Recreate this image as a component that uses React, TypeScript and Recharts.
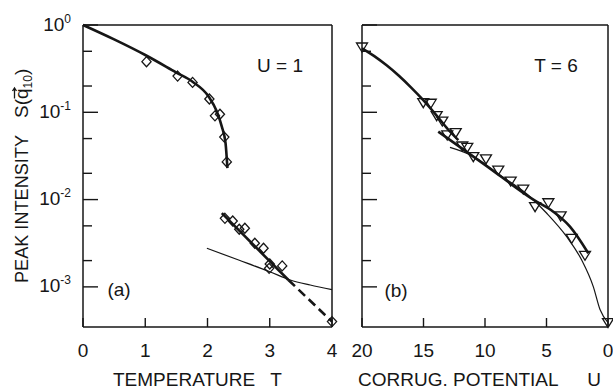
import React from "react";
import { ComposedChart, Line, XAxis, YAxis } from "recharts";

// panel (a): peak intensity vs temperature at U = 1
const aUpperCurveT = [0, 0.5, 1.0, 1.5, 1.76, 2.02, 2.15, 2.23, 2.29, 2.32];
const aUpperCurveS = [1, 0.684, 0.453, 0.285, 0.224, 0.151, 0.102, 0.0684, 0.0442, 0.0229];
const aUpperPointsT = [1.02, 1.52, 1.76, 2.03, 2.12, 2.2, 2.27, 2.31];
const aUpperPointsS = [0.38, 0.26, 0.22, 0.142, 0.091, 0.095, 0.052, 0.027];
const aLowerPointsT = [2.28, 2.405, 2.51, 2.6, 2.76, 2.9, 3.0, 2.99, 3.2, 4.0];
const aLowerPointsS = [0.0061, 0.00569, 0.00457, 0.00469, 0.00316, 0.00277, 0.00183, 0.00163, 0.00174, 0.0004];
const aFitT = [2.23, 3.3];
const aFitS = [0.007, 0.0012];
const aFitExtT = [3.3, 4.0];
const aFitExtS = [0.0012, 0.0004];
const aThinT = [1.99, 2.5, 3.0, 3.33, 3.65, 4.0];
const aThinS = [0.00277, 0.00203, 0.00149, 0.0012, 0.00105, 0.00093];

// panel (b): peak intensity vs corrugation potential at T = 6
const bPointsU = [20, 15.02, 14.41, 13.93, 13.47, 13.07, 12.38, 11.85, 11.44, 10.95, 9.92, 8.92, 7.91, 6.89, 5.93, 4.85, 3.85, 2.95, 1.87, 0];
const bPointsS = [0.56, 0.129, 0.127, 0.0914, 0.0794, 0.055, 0.0584, 0.0411, 0.0397, 0.031, 0.0292, 0.0218, 0.0163, 0.0132, 0.0083, 0.0092, 0.0065, 0.0036, 0.0023, 0.00039];
const bCurve1U = [20, 19, 18, 17, 16, 15, 14, 13, 12.17];
const bCurve1S = [0.541, 0.44, 0.345, 0.262, 0.192, 0.137, 0.0942, 0.0635, 0.048];
const bCurve2U = [13.8, 10, 6.07, 4.45, 3.09, 1.6];
const bCurve2S = [0.06, 0.025, 0.01, 0.00727, 0.0049, 0.00243];
const bThinU = [12.85, 11, 9, 6.5, 4.98, 3.36, 2.14, 1.19, 0.65, 0];
const bThinS = [0.0397, 0.0316, 0.02, 0.0113, 0.00697, 0.00376, 0.00203, 0.001, 0.00055, 0.00039];

const tTicks = [0, 1, 2, 3, 4];
const uTicks = [0, 5, 10, 15, 20];
const sTicks = [1, 0.5, 0.2, 0.1, 0.05, 0.02, 0.01, 0.005, 0.002, 0.001];
const sDomain = [3.47e-4, 1];

const W = 613;
const H = 391;
const TOP = 25;
const BOTTOM = 327;
const A_LEFT = 83;
const A_RIGHT = 332;
const B_LEFT = 362;
const B_RIGHT = 608;
const INK = "#161616";
const FONT = "'Liberation Sans', Arial, sans-serif";
const frame = { stroke: INK, strokeWidth: 1.5 };

const pts = (xs: number[], ys: number[]) => xs.map((x, i) => ({ x, y: ys[i] }));
const isDecade = (v: number) => Math.abs(Math.log10(v) - Math.round(Math.log10(v))) < 1e-6;

const yTick = (edge: number, dir: number, labelled: boolean) => (props: any) => {
  const { y, payload } = props;
  const v = payload.value;
  const major = isDecade(v);
  const exp = Math.round(Math.log10(v));
  return (
    <g>
      <line x1={edge} x2={edge + dir * (major ? 15 : 9)} y1={y} y2={y} stroke={INK} strokeWidth={1.4} />
      {labelled && major && (
        <text x={edge - 12} y={y + 5.5} textAnchor="end" fontSize={19} fill={INK} fontFamily={FONT}>
          10
          <tspan fontSize={12} dy={-8}>{exp === 0 ? "0" : `-${-exp}`}</tspan>
        </text>
      )}
    </g>
  );
};

const xTick = (edge: number, dir: number, labelled: boolean) => (props: any) => {
  const { x, payload } = props;
  return (
    <g>
      <line x1={x} x2={x} y1={edge} y2={edge + dir * 9} stroke={INK} strokeWidth={1.4} />
      {labelled && (
        <text x={x} y={357} textAnchor="middle" fontSize={19} fill={INK} fontFamily={FONT}>
          {payload.value}
        </text>
      )}
    </g>
  );
};

const diamond = (p: any) => (
  <path
    key={`d${p.index}`}
    d={`M${p.cx},${p.cy - 5} L${p.cx + 4.6},${p.cy} L${p.cx},${p.cy + 5} L${p.cx - 4.6},${p.cy} Z`}
    fill="none"
    stroke={INK}
    strokeWidth={1.3}
  />
);

const triangle = (p: any) => (
  <path
    key={`t${p.index}`}
    d={`M${p.cx - 5.5},${p.cy - 4} L${p.cx + 5.5},${p.cy - 4} L${p.cx},${p.cy + 5} Z`}
    fill="none"
    stroke={INK}
    strokeWidth={1.3}
  />
);

const abs = (left: number): React.CSSProperties => ({ position: "absolute", left, top: 0 });

export default function App() {
  return (
    <div style={{ position: "absolute", left: 0, top: 0, width: W, height: H, background: "#fff" }}>
      <div style={abs(0)}>
        <ComposedChart
          width={W}
          height={H}
          margin={{ top: TOP - 10, bottom: H - BOTTOM - 30, left: A_LEFT - 40, right: W - A_RIGHT - 10 }}
        >
          <XAxis dataKey="x" type="number" domain={[0, 4]} ticks={tTicks} interval={0} height={30}
            tickLine={false} axisLine={frame} tick={xTick(BOTTOM, -1, true)} />
          <XAxis xAxisId="top" orientation="top" dataKey="x" type="number" domain={[0, 4]} ticks={tTicks}
            interval={0} height={10} tickLine={false} axisLine={frame} tick={xTick(TOP, 1, false)} />
          <YAxis type="number" scale="log" domain={sDomain} ticks={sTicks} interval={0} width={40}
            tickLine={false} axisLine={frame} tick={yTick(A_LEFT, 1, true)} />
          <YAxis yAxisId="r" orientation="right" type="number" scale="log" domain={sDomain} ticks={sTicks}
            interval={0} width={10} tickLine={false} axisLine={frame} tick={yTick(A_RIGHT, -1, false)} />
          <Line data={pts(aUpperCurveT, aUpperCurveS)} dataKey="y" type="monotone" stroke={INK} strokeWidth={2.6}
            dot={false} activeDot={false} isAnimationActive={false} />
          <Line data={pts(aFitT, aFitS)} dataKey="y" type="linear" stroke={INK} strokeWidth={2.6}
            dot={false} activeDot={false} isAnimationActive={false} />
          <Line data={pts(aFitExtT, aFitExtS)} dataKey="y" type="linear" stroke={INK} strokeWidth={2.6}
            strokeDasharray="9 5" dot={false} activeDot={false} isAnimationActive={false} />
          <Line data={pts(aThinT, aThinS)} dataKey="y" type="monotone" stroke={INK} strokeWidth={1.2}
            dot={false} activeDot={false} isAnimationActive={false} />
          <Line data={pts(aUpperPointsT, aUpperPointsS)} dataKey="y" stroke="none" dot={diamond}
            activeDot={false} isAnimationActive={false} />
          <Line data={pts(aLowerPointsT, aLowerPointsS)} dataKey="y" stroke="none" dot={diamond}
            activeDot={false} isAnimationActive={false} />
        </ComposedChart>
      </div>
      <div style={abs(0)}>
        <ComposedChart
          width={W}
          height={H}
          margin={{ top: TOP - 10, bottom: H - BOTTOM - 30, left: B_LEFT - 10, right: W - B_RIGHT - 5 }}
        >
          <XAxis dataKey="x" type="number" domain={[0, 20]} reversed ticks={uTicks} interval={0} height={30}
            tickLine={false} axisLine={frame} tick={xTick(BOTTOM, -1, true)} />
          <XAxis xAxisId="top" orientation="top" dataKey="x" type="number" domain={[0, 20]} reversed ticks={uTicks}
            interval={0} height={10} tickLine={false} axisLine={frame} tick={xTick(TOP, 1, false)} />
          <YAxis type="number" scale="log" domain={sDomain} ticks={sTicks} interval={0} width={10}
            tickLine={false} axisLine={frame} tick={yTick(B_LEFT, 1, false)} />
          <YAxis yAxisId="r" orientation="right" type="number" scale="log" domain={sDomain} ticks={sTicks}
            interval={0} width={5} tickLine={false} axisLine={frame} tick={yTick(B_RIGHT, -1, false)} />
          <Line data={pts(bCurve1U, bCurve1S)} dataKey="y" type="monotone" stroke={INK} strokeWidth={2.6}
            dot={false} activeDot={false} isAnimationActive={false} />
          <Line data={pts(bThinU, bThinS)} dataKey="y" type="monotone" stroke={INK} strokeWidth={1.2}
            dot={false} activeDot={false} isAnimationActive={false} />
          <Line data={pts(bCurve2U, bCurve2S)} dataKey="y" type="monotone" stroke={INK} strokeWidth={2.6}
            dot={false} activeDot={false} isAnimationActive={false} />
          <Line data={pts(bPointsU, bPointsS)} dataKey="y" stroke="none" dot={triangle}
            activeDot={false} isAnimationActive={false} />
        </ComposedChart>
      </div>
      <svg width={W} height={H} style={{ position: "absolute", left: 0, top: 0, pointerEvents: "none" }}
        fontFamily={FONT} fill={INK}>
        <g transform="translate(28,177.5) rotate(-90)">
          <text x={-105.5} y={0} fontSize={19} textLength={148} lengthAdjust="spacingAndGlyphs">
            PEAK INTENSITY
          </text>
          <text x={59.5} y={0} fontSize={19}>
            S(q
            <tspan fontSize={12} dy={4}>10</tspan>
            <tspan dy={-4}>)</tspan>
          </text>
          {/* vector arrow over q */}
          <path d="M79,-13.5 L89.5,-13.5 M86.5,-15.5 L89.5,-13.5 L86.5,-11.5" fill="none" stroke={INK} strokeWidth={1.3} />
        </g>
        <text x={280} y={72} textAnchor="middle" fontSize={19}>U = 1</text>
        <text x={556} y={72} textAnchor="middle" fontSize={19}>T = 6</text>
        <text x={119} y={296} textAnchor="middle" fontSize={19}>(a)</text>
        <text x={396} y={297} textAnchor="middle" fontSize={19}>(b)</text>
        <text x={113} y={386} fontSize={19}>TEMPERATURE</text>
        <text x={276} y={386} textAnchor="middle" fontSize={19}>T</text>
        <text x={358} y={386} fontSize={19}>CORRUG. POTENTIAL</text>
        <text x={594} y={386} textAnchor="middle" fontSize={19}>U</text>
      </svg>
    </div>
  );
}
